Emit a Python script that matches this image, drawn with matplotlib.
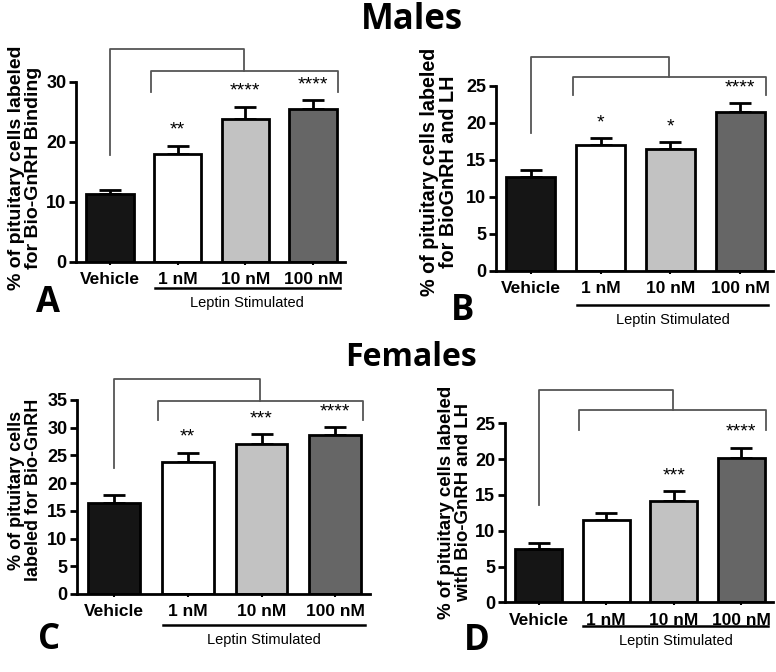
import matplotlib
matplotlib.use("Agg")
import matplotlib.pyplot as plt
import matplotlib.transforms as mtransforms

plt.rcParams["font.family"] = ["Liberation Sans", "DejaVu Sans"]

groups = ["Vehicle", "1 nM", "10 nM", "100 nM"]
bar_colors = ["#151515", "white", "#c2c2c2", "#666666"]

# panel A - males, Bio-GnRH binding
a_means = [11.3, 17.95, 23.8, 25.5]
a_errs = [0.7, 1.45, 2.1, 1.5]
a_stars = ["", "**", "****", "****"]

# panel B - males, BioGnRH and LH
b_means = [12.7, 17.0, 16.5, 21.5]
b_errs = [0.9, 0.9, 0.9, 1.1]
b_stars = ["", "*", "*", "****"]

# panel C - females, Bio-GnRH
c_means = [16.5, 23.8, 27.1, 28.6]
c_errs = [1.3, 1.7, 1.7, 1.5]
c_stars = ["", "**", "***", "****"]

# panel D - females, Bio-GnRH and LH
d_means = [7.4, 11.45, 14.2, 20.1]
d_errs = [0.9, 1.05, 1.3, 1.5]
d_stars = ["", "", "***", "****"]

W, H = 776, 672
fig = plt.figure(figsize=(W / 100, H / 100), dpi=100)


def px_axes(left, right, top, bottom):
    return fig.add_axes([left / W, 1 - bottom / H, (right - left) / W, (bottom - top) / H])


def panel(ax, means, errs, stars, ymax, ystep, brk, lep_off, letter, letter_xy, ylab, ylab_xy, ylab_fs):
    x = list(range(len(groups)))
    ax.bar(x, means, width=0.7, color=bar_colors, edgecolor="black", linewidth=2.0, zorder=2)
    ax.errorbar(x, means, yerr=[[0] * len(errs), errs], fmt="none", ecolor="black",
                elinewidth=2.0, capsize=8, capthick=2.0, zorder=1)
    ax.set_xlim(-0.5, 3.47)
    ax.set_ylim(0, ymax)
    ax.set_yticks(range(0, ymax + 1, ystep))
    ax.set_xticks(x)
    ax.set_xticklabels(groups, fontsize=12.5, fontweight="bold")
    for t in ax.get_yticklabels():
        t.set_fontsize(13)
        t.set_fontweight("bold")
    for s in ["top", "right"]:
        ax.spines[s].set_visible(False)
    for s in ["left", "bottom"]:
        ax.spines[s].set_linewidth(2.0)
    ax.tick_params(axis="y", width=2.0, length=5, pad=2)
    ax.tick_params(axis="x", width=1.5, length=2.5, pad=5)

    # significance stars
    for xi, m, e, s in zip(x, means, errs, stars):
        if s:
            ax.annotate(s, (xi, m + e), xytext=(0, 11), textcoords="offset points",
                        ha="center", va="center", fontsize=14)

    # comparison brackets
    outer_top, inner_top, outer_leg, inner_leg = brk
    il, ir = 0.6, 3.37
    mid = (il + ir) / 2
    kw = dict(color="#555555", lw=1.3, clip_on=False)
    ax.plot([0, 0, mid, mid], [outer_leg, outer_top, outer_top, inner_top], **kw)
    ax.plot([il, il, ir, ir], [inner_leg, inner_top, inner_top, inner_leg], **kw)

    # leptin stimulated underline
    trans = mtransforms.blended_transform_factory(ax.transData, ax.transAxes)
    offs = mtransforms.offset_copy(trans, fig=fig, x=0, y=-lep_off, units="dots")
    ax.plot([0.66, 3.4], [0, 0], color="black", lw=1.8, transform=offs, clip_on=False)
    offs2 = mtransforms.offset_copy(trans, fig=fig, x=0, y=-lep_off - 15, units="dots")
    ax.text(2.03, 0, "Leptin Stimulated", transform=offs2, ha="center", va="center", fontsize=10.5)

    fig.text(letter_xy[0] / W, 1 - letter_xy[1] / H, letter, ha="center", va="center",
             fontsize=25, fontweight="bold", family=["Open Sans", "DejaVu Sans"])
    fig.text(ylab_xy[0] / W, 1 - ylab_xy[1] / H, ylab, rotation=90, ha="center", va="center",
             multialignment="center", fontsize=ylab_fs, fontweight="bold", linespacing=1.0)


axA = px_axes(76, 345, 82, 262)
panel(axA, a_means, a_errs, a_stars, 30, 10, (35.5, 31.8, 17.8, 28.3), 26, "A", (48.5, 303),
      "% of pituitary cells labeled\nfor Bio-GnRH Binding", (25, 168), 14)

axB = px_axes(496, 773, 85.7, 270.7)
panel(axB, b_means, b_errs, b_stars, 25, 5, (28.9, 26.2, 18.6, 23.7), 34, "B", (463, 311),
      "% of pituitary cells labeled\nfor BioGnRH and LH", (439, 172), 14.2)

axC = px_axes(77, 370, 400, 594)
panel(axC, c_means, c_errs, c_stars, 35, 5, (38.8, 34.9, 22.7, 31.4), 31, "C", (49.5, 640),
      "% of pituitary cells\nlabeled for Bio-GnRH", (25, 490), 13)

axD = px_axes(505, 773, 423.3, 602.3)
panel(axD, d_means, d_errs, d_stars, 25, 5, (29.6, 26.8, 13.6, 24.0), 24, "D", (477, 641.5),
      "% of pituitary cells labeled\nwith Bio-GnRH and LH", (455, 502), 13.4)

fig.text(412 / W, 1 - 20 / H, "Males", ha="center", va="center", fontsize=25,
         fontweight="bold", family=["Open Sans", "DejaVu Sans"])
fig.text(411 / W, 1 - 358 / H, "Females", ha="center", va="center", fontsize=23,
         fontweight="bold", family=["Open Sans", "DejaVu Sans"])

fig.savefig("out.png", dpi=100)
